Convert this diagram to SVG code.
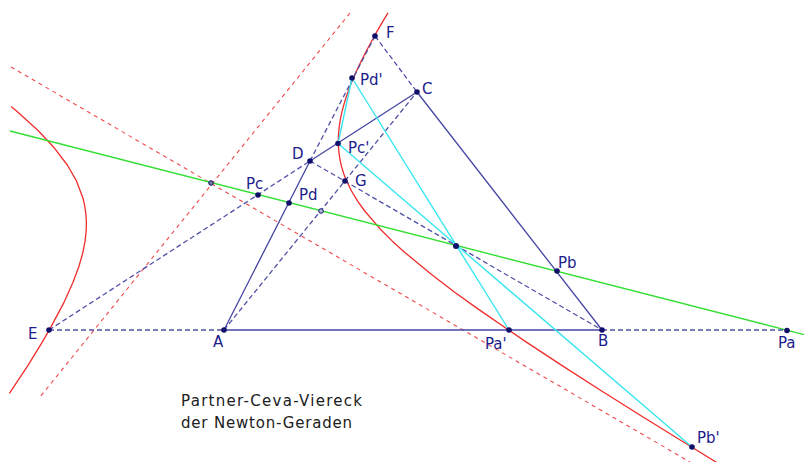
<svg xmlns="http://www.w3.org/2000/svg" width="804" height="462" viewBox="0 0 804 462">
<style>
.s{stroke:#4646a4;stroke-width:1.3;fill:none}
.d{stroke:#5050a8;stroke-width:1.3;fill:none;stroke-dasharray:5,3}
.rd{stroke:#f04848;stroke-width:1.1;fill:none;stroke-dasharray:4,4}
.rc{stroke:#f02c2c;stroke-width:1.3;fill:none;stroke-linejoin:round}
.g{stroke:#33e033;stroke-width:1.4;fill:none}
.c{stroke:#38e6f0;stroke-width:1.4;fill:none}
.pt{fill:#10106a}
.sp{fill:#7a7a9a;stroke:#10106a;stroke-width:1}
.lb{font-family:"DejaVu Sans","Liberation Sans",sans-serif;font-size:15px;fill:#1c1c8c}
.cap{font-family:"DejaVu Sans","Liberation Sans",sans-serif;font-size:15px;fill:#202020}
</style>
<rect width="804" height="462" fill="#ffffff"/>
<g id="curves">
<line class="rd" x1="11" y1="67" x2="690" y2="462"/>
<line class="rd" x1="350" y1="13" x2="40" y2="397"/>
<polyline class="rc" points="388,12.9 383.6,20.1 376,33.2 366.7,50.2 359.5,64.6 355.6,73.1 352.25,80.8 349.4,87.9 346,97.7 343.4,106.4 342,111.7 340.4,119.1 339.3,126 338.5,134.3 338.3,140 338.4,145.4 338.9,152 340,159.75 341.6,166.9 343.65,173.5 346,179.6 351.5,191 357.8,201.4 364.75,211 379.9,228.7 392.1,240.9 404.8,252.4 431.25,274.3 454,291.7 477.2,308.4 524.5,340.9 562.9,366.1 601.7,391 640.6,415.5 679.8,439.8 719.1,464"/>
<polyline class="rc" points="9.4,393.4 28,365.3 42.1,342.4 49.5,329.6 63.5,303.4 72.7,283 78.9,266.5 82.8,252.8 85.1,240.9 86.2,230.7 86.4,221.6 85.8,213.3 84.7,205.8 83.2,198.8 76.3,180.6 67.3,165 53.3,146.7 37.8,130.3 17.1,111.4 11.1,106.4"/>
</g>
<g id="connectors">
<line class="g" x1="10" y1="131" x2="804" y2="334.6"/>
<line class="d" x1="49" y1="330" x2="224" y2="330"/>
<line class="d" x1="602" y1="330" x2="787" y2="330"/>
<line class="d" x1="49" y1="330" x2="310" y2="161"/>
<line class="d" x1="310" y1="161" x2="375" y2="36"/>
<line class="d" x1="375" y1="36" x2="417" y2="92"/>
<line class="d" x1="224" y1="330" x2="417" y2="92"/>
<line class="d" x1="310" y1="161" x2="602" y2="330"/>
<line class="s" x1="224" y1="330" x2="602" y2="330"/>
<line class="s" x1="224" y1="330" x2="310" y2="161"/>
<line class="s" x1="310" y1="161" x2="417" y2="92"/>
<line class="s" x1="417" y1="92" x2="602" y2="330"/>
<line class="c" x1="352" y1="78" x2="338" y2="143.5"/>
<line class="c" x1="352" y1="78" x2="509" y2="330"/>
<line class="c" x1="338" y1="143.5" x2="692" y2="447"/>
</g>
<g id="E"><circle class="pt" cx="49" cy="330" r="2.8"/><text class="lb" x="28" y="339">E</text></g>
<g id="A"><circle class="pt" cx="224" cy="330" r="2.8"/><text class="lb" x="213" y="347">A</text></g>
<g id="Pa1"><circle class="pt" cx="509" cy="330" r="2.8"/><text class="lb" x="485" y="349">Pa'</text></g>
<g id="B"><circle class="pt" cx="602" cy="330" r="2.8"/><text class="lb" x="598" y="346">B</text></g>
<g id="Pa"><circle class="pt" cx="787" cy="330.5" r="2.8"/><text class="lb" x="778" y="348">Pa</text></g>
<g id="C"><circle class="pt" cx="417" cy="92" r="2.8"/><text class="lb" x="422" y="94">C</text></g>
<g id="D"><circle class="pt" cx="310" cy="161" r="2.8"/><text class="lb" x="292" y="159">D</text></g>
<g id="F"><circle class="pt" cx="375" cy="36" r="2.8"/><text class="lb" x="386" y="38">F</text></g>
<g id="Pd1"><circle class="pt" cx="352" cy="78" r="2.8"/><text class="lb" x="360" y="85">Pd'</text></g>
<g id="Pc1"><circle class="pt" cx="338" cy="143.5" r="2.8"/><text class="lb" x="348" y="153">Pc'</text></g>
<g id="G"><circle class="pt" cx="345" cy="181" r="2.8"/><text class="lb" x="355" y="186">G</text></g>
<g id="Pc"><circle class="pt" cx="258" cy="195" r="2.8"/><text class="lb" x="246" y="189">Pc</text></g>
<g id="Pd"><circle class="pt" cx="289" cy="203" r="2.8"/><text class="lb" x="299" y="200">Pd</text></g>
<g id="Pb"><circle class="pt" cx="557" cy="271" r="2.8"/><text class="lb" x="558" y="268">Pb</text></g>
<g id="Pb1"><circle class="pt" cx="692" cy="447" r="2.8"/><text class="lb" x="697" y="443">Pb'</text></g>
<g id="M"><circle class="pt" cx="456" cy="246" r="3"/></g>
<g id="O"><circle class="sp" cx="211" cy="183" r="2.3"/></g>
<g id="N"><circle cx="321" cy="211" r="2.3" fill="#b8b8d8" stroke="#10106a" stroke-width="1"/></g>
<g id="caption">
<text class="cap" x="181" y="406" textLength="181" lengthAdjust="spacing">Partner-Ceva-Viereck</text>
<text class="cap" x="181" y="428" textLength="171" lengthAdjust="spacing">der Newton-Geraden</text>
</g>
</svg>
